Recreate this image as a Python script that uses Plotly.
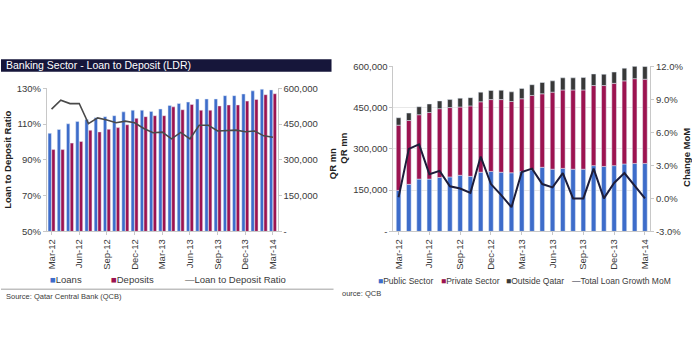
import plotly.graph_objects as go

# ---------------- data ----------------
months = ["Mar-12", "Apr-12", "May-12", "Jun-12", "Jul-12", "Aug-12", "Sep-12", "Oct-12",
          "Nov-12", "Dec-12", "Jan-13", "Feb-13", "Mar-13", "Apr-13", "May-13", "Jun-13",
          "Jul-13", "Aug-13", "Sep-13", "Oct-13", "Nov-13", "Dec-13", "Jan-14", "Feb-14", "Mar-14"]
tick_months = ["Mar-12", "Jun-12", "Sep-12", "Dec-12", "Mar-13", "Jun-13", "Sep-13", "Dec-13", "Mar-14"]

# Left chart (QR mn and %)
loans = [411000, 427000, 451000, 461000, 469000, 476000, 481000, 485000, 501000, 508000,
         508000, 503000, 513000, 528000, 536000, 542000, 555000, 555000, 555000, 569000,
         569000, 576000, 589000, 596000, 593000]
deposits = [343000, 343000, 370000, 377000, 424000, 417000, 428000, 435000, 447000, 474000,
            481000, 485000, 485000, 522000, 510000, 532000, 508000, 508000, 526000, 530000,
            530000, 546000, 553000, 573000, 577000]
ldr = [118.3, 123.3, 121.4, 121.5, 110.2, 113.4, 112.3, 110.7, 111.6, 110.7, 107.5, 105.1,
       105.5, 101.7, 105.3, 101.7, 109.3, 109.3, 106.1, 106.2, 106.6, 105.7, 106.1, 103.4, 102.6]

# Right chart (QR mn and %)
public_sector = [149000, 171000, 190000, 190000, 196000, 198000, 204000, 200000, 215000, 218000,
                 215000, 213000, 218000, 224000, 233000, 226000, 229000, 226000, 226000, 239000,
                 236000, 239000, 245000, 247000, 247000]
private_sector = [237000, 232000, 234000, 242000, 250000, 252000, 248000, 256000, 256000, 261000,
                  264000, 259000, 264000, 270000, 267000, 280000, 285000, 288000, 288000, 291000,
                  294000, 299000, 302000, 308000, 306000]
outside_qatar = [27000, 27000, 29000, 31000, 28000, 29000, 32000, 30000, 35000, 33000,
                 34000, 35000, 37000, 39000, 41000, 41000, 44000, 44000, 45000, 42000,
                 41000, 41000, 46000, 45000, 46000]
loan_growth = [0.1, 4.5, 4.9, 2.2, 2.5, 1.1, 0.9, 0.5, 3.8, 1.3, 0.3, -0.8, 2.4, 2.7, 1.3,
               1.0, 2.3, 0.0, 0.0, 2.7, 0.0, 1.4, 2.3, 1.1, 0.0]

qr_ticks = [0, 150000, 300000, 450000, 600000]
qr_ticktext = ["-", "150,000", "300,000", "450,000", "600,000"]
ldr_ticks = [50, 70, 90, 110, 130]
growth_ticks = [-3, 0, 3, 6, 9, 12]

# ---------------- style ----------------
W, H = 692, 338
BLUE = "#3d6cca"
MAROON = "#9c1350"
DARK = "#383838"
FONT = "Liberation Sans, Arial, sans-serif"
TICKC = "#3a3a3a"
AXC = "#c8c8c8"


def px(x):
    return x / W


def py(y):
    return 1 - y / H


fig = go.Figure()

# Left chart: bars on y (right side, QR mn), ratio line on y2 (left side, %) drawn on top
fig.add_trace(go.Bar(x=months, y=loans, name="Loans", marker_color=BLUE,
                     width=0.36, offset=-0.38, xaxis="x", yaxis="y", showlegend=False))
fig.add_trace(go.Bar(x=months, y=deposits, name="Deposits", marker_color=MAROON,
                     width=0.36, offset=0.02, xaxis="x", yaxis="y", showlegend=False))
fig.add_trace(go.Scatter(x=months, y=ldr, name="Loan to Deposit Ratio", mode="lines",
                         line=dict(color="#4a4a4a", width=1.6), xaxis="x", yaxis="y2",
                         showlegend=False))

# Right chart (stacked)
base_private = [a for a in public_sector]
base_outside = [a + b for a, b in zip(public_sector, private_sector)]
fig.add_trace(go.Bar(x=months, y=public_sector, name="Public Sector", marker_color=BLUE,
                     width=0.45, xaxis="x2", yaxis="y3", showlegend=False))
fig.add_trace(go.Bar(x=months, y=private_sector, base=base_private, name="Private Sector",
                     marker_color=MAROON, width=0.45, xaxis="x2", yaxis="y3", showlegend=False))
fig.add_trace(go.Bar(x=months, y=outside_qatar, base=base_outside, name="Outside Qatar",
                     marker_color=DARK, width=0.45, xaxis="x2", yaxis="y3", showlegend=False))
fig.add_trace(go.Scatter(x=months, y=loan_growth, name="Total Loan Growth MoM", mode="lines",
                         line=dict(color="#1d1d3a", width=2), xaxis="x2", yaxis="y4",
                         showlegend=False))

tickfont = dict(family=FONT, size=9.5, color=TICKC)

xcommon = dict(type="category", categoryorder="array", categoryarray=months,
               range=[-0.5, 24.5], tickmode="array", tickvals=tick_months,
               tickangle=-90, tickfont=tickfont, showline=True, linecolor=AXC,
               ticks="outside", ticklen=3, tickcolor=AXC, showgrid=False, zeroline=False)

fig.update_layout(
    width=W, height=H,
    margin=dict(l=0, r=0, t=0, b=0),
    paper_bgcolor="white", plot_bgcolor="rgba(0,0,0,0)",
    barmode="overlay",
    font=dict(family=FONT, color=TICKC),
    xaxis=dict(domain=[px(46), px(277)], anchor="y", **xcommon),
    yaxis=dict(domain=[py(233), py(85)], side="right", anchor="x", range=[0, 600000],
               tickmode="array", tickvals=qr_ticks, ticktext=qr_ticktext,
               tickfont=tickfont, showline=True, linecolor=AXC, ticks="outside",
               ticklen=3, tickcolor=AXC, showgrid=False, zeroline=False),
    yaxis2=dict(overlaying="y", side="left", anchor="x", range=[50, 130], tickmode="array",
                tickvals=ldr_ticks, ticktext=[f"{v}%" for v in ldr_ticks],
                tickfont=tickfont, showline=True, linecolor=AXC, ticks="outside",
                ticklen=3, tickcolor=AXC, showgrid=False, zeroline=False),
    xaxis2=dict(domain=[px(393), px(650)], anchor="y3", **xcommon),
    yaxis3=dict(domain=[py(233), py(62.3)], range=[0, 600000], anchor="x2",
                tickmode="array", tickvals=qr_ticks, ticktext=qr_ticktext,
                tickfont=tickfont, showline=True, linecolor=AXC, ticks="outside",
                ticklen=3, tickcolor=AXC, showgrid=True, gridcolor="#e8e8e8",
                zeroline=False),
    yaxis4=dict(overlaying="y3", side="right", anchor="x2", range=[-3, 12],
                tickmode="array", tickvals=growth_ticks,
                ticktext=[f"{v:.1f}%" for v in growth_ticks],
                tickfont=tickfont, showline=True, linecolor=AXC, ticks="outside",
                ticklen=3, tickcolor=AXC, showgrid=False, zeroline=False),
)

# Title bar and separator line
fig.add_shape(type="rect", xref="paper", yref="paper", x0=0, x1=px(331),
              y0=py(68), y1=py(55), fillcolor="#16163a", line_width=0, layer="below")
fig.add_shape(type="line", xref="paper", yref="paper", x0=0, x1=px(333),
              y0=py(292.7), y1=py(292.7), line=dict(color="#a0a0a0", width=1))

annots = []


def ann(text, x, y, size=9.5, color=TICKC, angle=0, xanchor="left", bold=False):
    if bold:
        text = f"<b>{text}</b>"
    annots.append(dict(text=text, x=px(x), y=py(y), xref="paper", yref="paper",
                       showarrow=False, xanchor=xanchor, yanchor="middle",
                       textangle=angle, font=dict(family=FONT, size=size, color=color)))


ann("Banking Sector - Loan to Deposit (LDR)", 3, 61.5, size=10.5, color="white")
ann("Loan to Deposit Ratio", 7, 159, size=9.5, angle=-90, xanchor="center", bold=True, color="#222")
ann("QR mn", 332, 163, size=9.5, angle=-90, xanchor="center", bold=True, color="#222")
ann("QR mn", 343, 147, size=9.5, angle=-90, xanchor="center", bold=True, color="#222")
ann("Change MoM", 687, 157, size=9.5, angle=-90, xanchor="center", bold=True, color="#222")


def sq(c):
    return f'<span style="color:{c}">■</span>'


def ln(c):
    return f'<span style="color:{c}">—</span>'


ann(sq(BLUE) + "Loans", 47, 283, size=9.5)
ann(sq(MAROON) + "Deposits", 108, 283, size=9.5)
ann(ln("#4a4a4a") + "Loan to Deposit Ratio", 182, 283, size=9.5)

ann(sq(BLUE) + "Public Sector", 376, 284, size=8.5)
ann(sq(MAROON) + "Private Sector", 439, 284, size=8.5)
ann(sq(DARK) + "Outside Qatar", 504, 284, size=8.5)
ann(ln("#1d1d3a") + "Total Loan Growth MoM", 570, 284, size=8.5)

ann("Source: Qatar Central Bank (QCB)", 3, 300, size=7.5)
ann("ource: QCB", 339, 297, size=7.5)

fig.update_layout(annotations=annots)

fig.write_html("out.html")
